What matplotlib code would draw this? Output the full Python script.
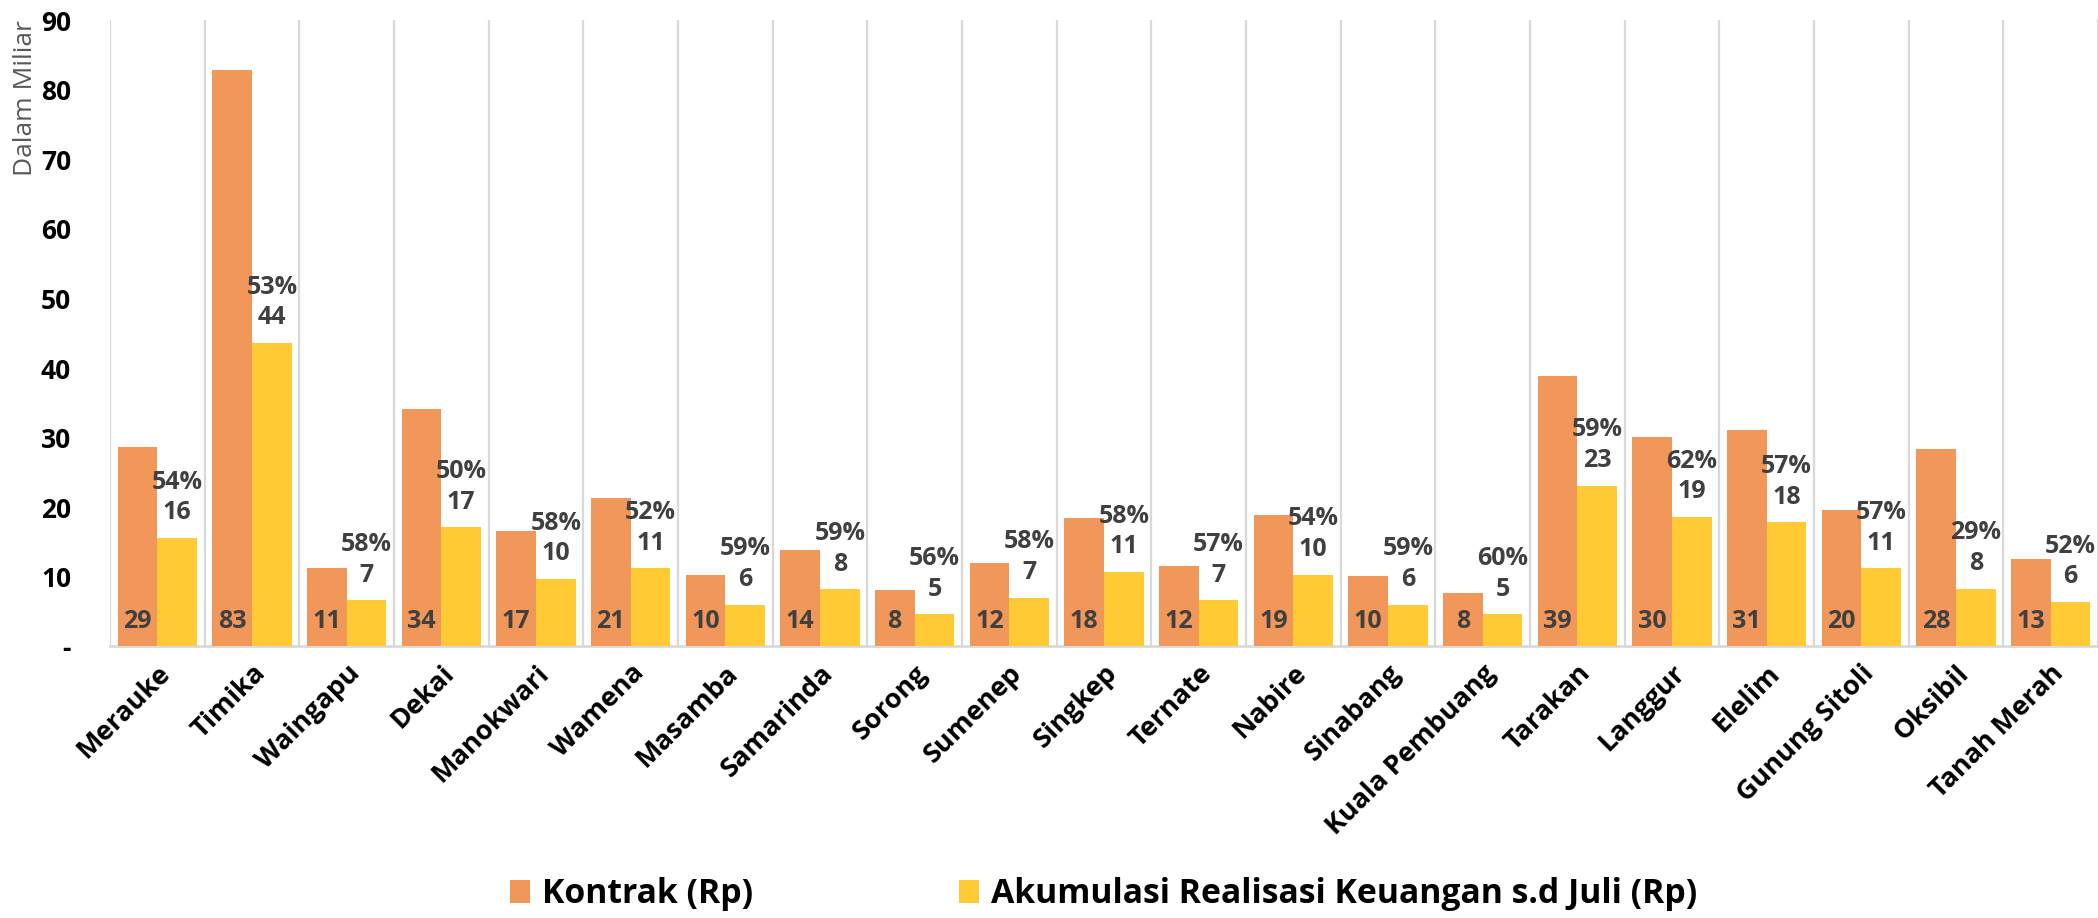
import matplotlib
matplotlib.use("Agg")
import matplotlib.pyplot as plt
import numpy as np

# === Data (Rp, dalam miliar) ===
lokasi = ["Merauke", "Timika", "Waingapu", "Dekai", "Manokwari", "Wamena", "Masamba",
          "Samarinda", "Sorong", "Sumenep", "Singkep", "Ternate", "Nabire", "Sinabang",
          "Kuala Pembuang", "Tarakan", "Langgur", "Elelim", "Gunung Sitoli", "Oksibil",
          "Tanah Merah"]
kontrak = [28.6, 82.9, 11.2, 34.1, 16.6, 21.3, 10.2, 13.8, 8.1, 11.9, 18.4,
           11.5, 18.9, 10.1, 7.6, 38.9, 30.1, 31.1, 19.6, 28.3, 12.6]
realisasi = [15.6, 43.6, 6.6, 17.1, 9.7, 11.2, 6.0, 8.2, 4.6, 7.0, 10.7,
             6.6, 10.3, 6.0, 4.6, 23.1, 18.6, 17.8, 11.2, 8.3, 6.4]
persen = [54, 53, 58, 50, 58, 52, 59, 59, 56, 58, 58, 57, 54, 59, 60, 59, 62, 57, 57, 29, 52]
yticks = [0, 10, 20, 30, 40, 50, 60, 70, 80, 90]

c_kontrak = "#F1975A"
c_real = "#FFCA33"
c_label = "#404040"

plt.rcParams["font.family"] = ["Open Sans", "DejaVu Sans"]

fig = plt.figure(figsize=(20.98, 9.18), dpi=100)
ax = fig.add_axes([0.0524, 0.296, 0.9476, 0.682])

x = np.arange(len(lokasi))
w = 0.42
b1 = ax.bar(x - w / 2, kontrak, w, color=c_kontrak, label="Kontrak (Rp)", zorder=3)
b2 = ax.bar(x + w / 2, realisasi, w, color=c_real,
            label="Akumulasi Realisasi Keuangan s.d Juli (Rp)", zorder=3)

# kontrak value at the base of the bar
for xi, v in zip(x, kontrak):
    ax.text(xi - w / 2, 3.6, f"{v:.0f}", ha="center", va="center",
            fontsize=18, fontweight="bold", color=c_label, zorder=4)

# percentage + realisasi above yellow bar
ax.bar_label(b2, labels=[f"{p}%\n{v:.0f}" for p, v in zip(persen, realisasi)],
             padding=9, fontsize=18, fontweight="bold", color=c_label,
             linespacing=1.3, multialignment="center")

ax.set_xlim(-0.5, len(lokasi) - 0.5)
ax.set_ylim(0, 90)
ax.set_yticks(yticks)
ax.set_yticklabels(["-" if t == 0 else str(t) for t in yticks],
                   fontsize=19, fontweight="bold")
ax.set_xticks(x)
ax.set_xticklabels(lokasi, fontsize=19.5, fontweight="bold", rotation=45,
                   ha="right", rotation_mode="anchor")
ax.tick_params(axis="x", length=0, pad=10)
ax.tick_params(axis="y", length=0, pad=28)

# vertical separators between categories
ax.set_xticks(np.arange(-0.5, len(lokasi)), minor=True)
ax.tick_params(axis="x", which="minor", length=0)
ax.grid(axis="x", which="minor", color="#D9D9D9", linewidth=1.6, zorder=0)
ax.grid(axis="x", which="major", visible=False)

for s in ["top", "right", "left"]:
    ax.spines[s].set_visible(False)
ax.spines["bottom"].set_color("#D9D9D9")
ax.spines["bottom"].set_linewidth(2)

ax.set_ylabel("Dalam Miliar", fontsize=19, color="#595959")
ax.yaxis.set_label_coords(-0.036, 0.875)

fig.legend(handles=[b1, b2], loc="center", bbox_to_anchor=(0.526, 0.026), ncol=2,
           frameon=False, prop={"weight": "bold", "size": 24.3},
           handlelength=0.6, handleheight=0.7, handletextpad=0.35, columnspacing=6.1)

fig.savefig("out.png", dpi=100)
